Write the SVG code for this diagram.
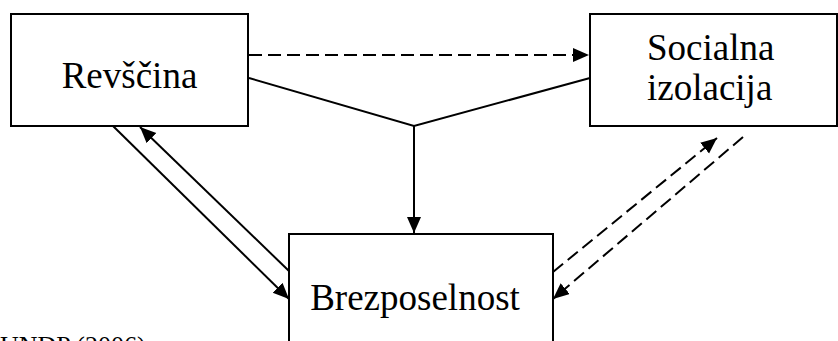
<svg xmlns="http://www.w3.org/2000/svg" width="838" height="341" viewBox="0 0 838 341">
<style>
.box{fill:#fff;stroke:#000;stroke-width:2}
.lbl{font-family:"Liberation Serif","Times New Roman",serif;font-size:37px;fill:#000}
.ln{fill:none;stroke:#000;stroke-width:2}
.dash{stroke-dasharray:13 6}
</style>
<defs>
<marker id="ah" markerUnits="userSpaceOnUse" markerWidth="18" markerHeight="16" refX="16" refY="7" orient="auto">
<path d="M0,0 L16,7 L0,14 z" fill="#000"/>
</marker>
</defs>
<rect width="838" height="341" fill="#fff"/>
<g id="connectors">
<line class="ln dash" x1="249" y1="55" x2="589" y2="55" marker-end="url(#ah)"/>
<polyline class="ln" points="249,78 414,126 590,78"/>
<line class="ln" x1="414" y1="126" x2="414" y2="233" marker-end="url(#ah)"/>
<line class="ln" x1="113" y1="126" x2="289" y2="299" marker-end="url(#ah)"/>
<line class="ln" x1="289" y1="271" x2="140" y2="127" marker-end="url(#ah)"/>
<line class="ln dash" x1="553" y1="272" x2="717" y2="138" marker-end="url(#ah)"/>
<line class="ln dash" x1="743" y1="137" x2="553" y2="299" marker-end="url(#ah)"/>
</g>
<g id="revscina">
<rect class="box" x="11" y="14" width="237" height="112"/>
<text class="lbl" x="129.5" y="88" text-anchor="middle">Revščina</text>
</g>
<g id="socialna">
<rect class="box" x="590" y="14" width="247" height="112"/>
<text class="lbl" x="647" y="60">Socialna</text>
<text class="lbl" x="647" y="100">izolacija</text>
</g>
<g id="brezposelnost">
<rect class="box" x="289" y="234" width="264" height="130"/>
<text class="lbl" x="415" y="310" text-anchor="middle">Brezposelnost</text>
</g>
<text x="0" y="354" style="font-family:'Liberation Serif','Times New Roman',serif;font-size:26px;fill:#000">UNDP (2006)</text>
</svg>
